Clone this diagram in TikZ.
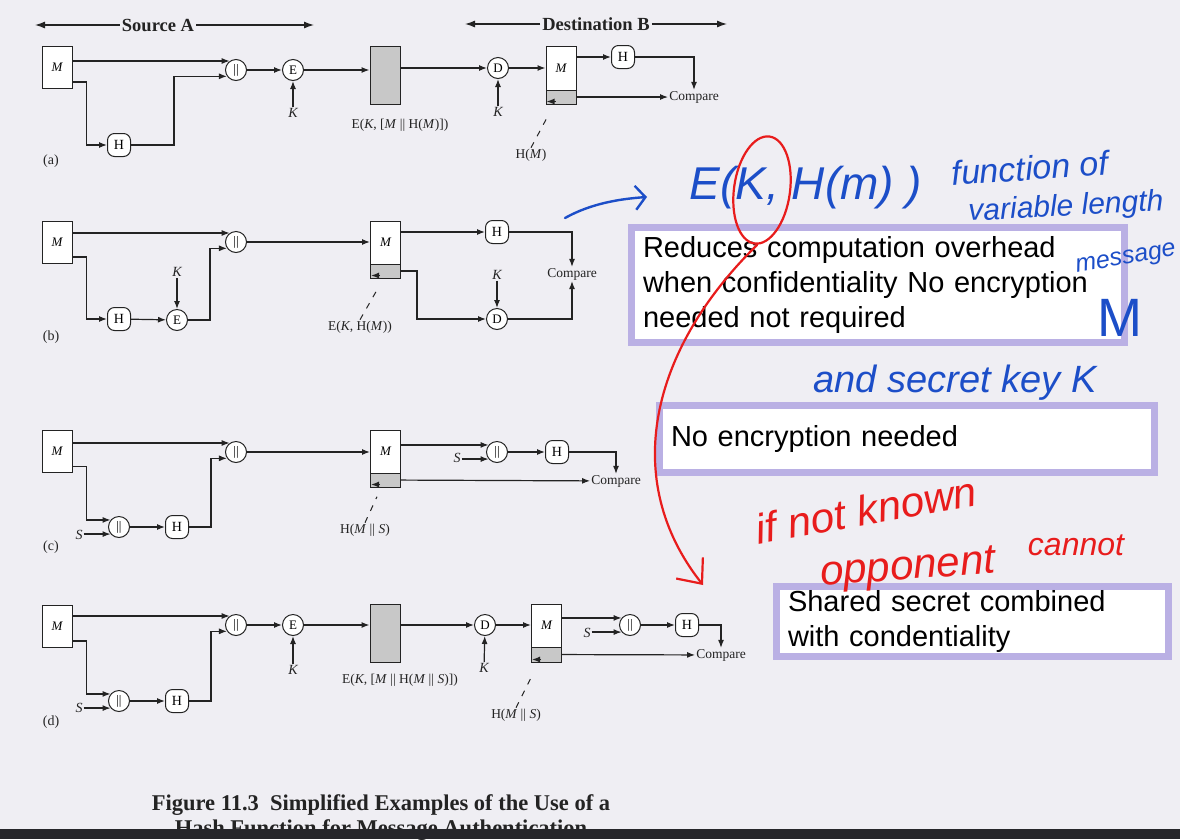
\documentclass[tikz,border=0pt]{standalone}
\usepackage{fontspec}
\setmainfont{Liberation Serif}
\newfontfamily\notefont{Liberation Sans}
\newfontfamily\inkfont{Liberation Sans}
\usetikzlibrary{
  arrows.meta,
  positioning,
  calc
}
\definecolor{papercolor}{RGB}{239,238,243}
\definecolor{linecolor}{RGB}{35,35,35}
\definecolor{hashgray}{RGB}{200,200,200}
\definecolor{notebordercolor}{RGB}{186,176,228}
\definecolor{blueink}{RGB}{28,78,200}
\definecolor{redink}{RGB}{232,28,28}
\definecolor{barcolor}{RGB}{38,38,42}
\tikzset{
figtext/.style={
  font=\fontsize{13.5}{15}\selectfont,
  text=linecolor,
  inner sep=1pt
},
keytext/.style={
  figtext,
  font=\fontsize{14}{15}\selectfont\itshape
},
tagtext/.style={
  figtext,
  font=\fontsize{14}{15}\selectfont
},
headtext/.style={
  font=\bfseries\fontsize{18.5}{20}\selectfont,
  text=linecolor,
  inner sep=2pt
},
captext/.style={
  font=\bfseries\fontsize{22.5}{24}\selectfont,
  text=linecolor
},
msgbox/.style={
  draw=linecolor,
  line width=1pt,
  fill=white,
  minimum width=30pt,
  minimum height=42pt,
  inner sep=0pt,
  font=\fontsize{13}{14}\selectfont\itshape
},
hashfield/.style={
  draw=linecolor,
  line width=1pt,
  fill=hashgray,
  minimum width=30pt,
  minimum height=14pt,
  inner sep=0pt
},
cipherbox/.style={
  draw=linecolor,
  line width=1pt,
  fill=hashgray,
  minimum width=30pt,
  minimum height=58pt
},
opcirc/.style={
  circle,
  draw=linecolor,
  line width=1pt,
  fill=white,
  minimum size=21pt,
  inner sep=0pt,
  font=\fontsize{13}{14}\selectfont
},
hashbox/.style={
  draw=linecolor,
  line width=1pt,
  rounded corners=7pt,
  fill=white,
  minimum width=23pt,
  minimum height=23pt,
  inner sep=0pt,
  font=\fontsize{14}{15}\selectfont
},
arrow/.style={
  -{Latex[length=8pt,width=6pt]},
  line width=1.2pt,
  draw=linecolor
},
sidearrow/.style={
  -{Latex[length=10pt,width=7pt]},
  line width=1.2pt,
  draw=linecolor
},
pointer/.style={
  line width=1pt,
  draw=linecolor,
  dash pattern=on 6pt off 7pt
},
notebox/.style={
  draw=notebordercolor,
  line width=7pt,
  fill=white,
  inner xsep=11.5pt,
  align=left,
  font=\notefont\fontsize{29}{35}\selectfont
},
bluehand/.style={
  text=blueink,
  inner sep=0pt,
  font=\inkfont\itshape\fontsize{34}{34}\selectfont
},
redhand/.style={
  text=redink,
  inner sep=0pt,
  font=\inkfont\itshape\fontsize{42}{42}\selectfont
},
blueline/.style={
  draw=blueink,
  line width=2.4pt,
  line cap=round
},
redline/.style={
  draw=redink,
  line width=2.2pt,
  line cap=round
}
}

\begin{document}
\begin{tikzpicture}[x=1pt,y=-1pt]
\path[use as bounding box, fill=papercolor] (0,0) rectangle (1180,839);

\node[headtext] (srcA) at (158,25) {Source A};
\coordinate (srcL) at (35,25);
\coordinate (srcR) at (314,25);
\draw[sidearrow] (srcA.west) -- (srcL);
\draw[sidearrow] (srcA.east) -- (srcR);
\node[headtext] (dstB) at (596,24) {Destination B};
\coordinate (dstL) at (465,24);
\coordinate (dstR) at (727,24);
\draw[sidearrow] (dstB.west) -- (dstL);
\draw[sidearrow] (dstB.east) -- (dstR);

\node[msgbox] (Ma) at (57,67) {M};
\node[opcirc] (Ca) at (236,70) {||};
\node[hashbox] (Ha) at (119,145) {H};
\node[opcirc] (Ea) at (293,70) {E};
\node[keytext] (Ka) at (293,113) {K};
\node[cipherbox] (Ga) at (385,75) {};
\node[figtext] (GLa) at (400,125) {E(\textit{K}, [\textit{M} || H(\textit{M})])};
\node[opcirc] (Da) at (498,68) {D};
\node[keytext] (Ka2) at (498,112) {K};
\node[msgbox, minimum height=44pt] (Ra) at (561,68) {M};
\node[hashfield] (Ta) at (561,97) {};
\node[hashbox] (HBa) at (623,57) {H};
\node[figtext] (Cmpa) at (694,97) {Compare};
\node[figtext] (HLa) at (531,155) {H(\textit{M})};
\node[tagtext] (tagA) at (51,161) {(a)};
\draw[arrow] (Ma.east |- Ca.125) -- (Ca.125);
\draw[arrow] ([yshift=-15pt]Ma.east) -- ++(14,0) |- (Ha.west);
\draw[arrow] (Ha.east) -- ++(43,0) |- (Ca.215);
\draw[arrow] (Ca) -- (Ea);
\draw[arrow] (Ka) -- (Ea);
\draw[arrow] (Ea) -- (Ga.west |- Ea);
\draw[arrow] (Ga.east |- Da) -- (Da);
\draw[arrow] (Ka2) -- (Da);
\draw[arrow] (Da) -- (Ra.west |- Da);
\draw[arrow] (Ra.east |- HBa) -- (HBa);
\draw[arrow] (HBa) -| (Cmpa.north);
\draw[arrow] (Ta) -- (Cmpa);
\draw[pointer] (HLa.north) -- ++(16,-30);
\draw[arrow] ([xshift=10pt,yshift=3pt]Ta.south west) -- ([xshift=1pt,yshift=3pt]Ta.south west);

\node[msgbox] (Mb) at (57,242) {M};
\node[opcirc] (Cb) at (236,242) {||};
\node[hashbox] (Hb) at (119,319) {H};
\node[opcirc] (Eb) at (177,320) {E};
\node[keytext] (Kb) at (177,272) {K};
\node[msgbox, minimum height=43pt] (Rb) at (385.5,242.5) {M};
\node[hashfield] (Tb) at (385.5,271) {};
\node[figtext] (GLb) at (360,327) {E(\textit{K}, H(\textit{M}))};
\node[hashbox] (HBb) at (497,232) {H};
\node[opcirc] (Db) at (497,319) {D};
\node[keytext] (Kb2) at (497,275) {K};
\node[figtext] (Cmpb) at (572,274) {Compare};
\node[tagtext] (tagB) at (51,337) {(b)};
\draw[arrow] (Mb.east |- Cb.125) -- (Cb.125);
\draw[arrow] ([yshift=-15pt]Mb.east) -- ++(14,0) |- (Hb.west);
\draw[arrow] (Hb) -- (Eb);
\draw[arrow] (Kb) -- (Eb);
\draw[arrow] (Eb.east) -- ++(22,0) |- (Cb.215);
\draw[arrow] (Cb) -- (Rb.west |- Cb);
\draw[arrow] (Rb.east |- HBb) -- (HBb);
\draw[arrow] (HBb) -| (Cmpb.north);
\draw[arrow] (Tb.east) -- ++(16,0) |- (Db.west);
\draw[arrow] (Kb2) -- (Db);
\draw[arrow] (Db) -| (Cmpb.south);
\draw[pointer] (GLb.north) -- ++(16,-28);
\draw[arrow] ([xshift=10pt,yshift=3pt]Tb.south west) -- ([xshift=1pt,yshift=3pt]Tb.south west);

\node[msgbox] (Mc) at (57,451.5) {M};
\node[opcirc] (Cc) at (236,452) {||};
\node[opcirc] (Jc) at (119,527) {||};
\node[keytext] (Sc) at (79,535) {S};
\node[hashbox] (Hc) at (177,527) {H};
\node[msgbox, minimum height=43pt] (Rc) at (385.5,451.5) {M};
\node[hashfield] (Tc) at (385.5,480) {};
\node[figtext] (GLc) at (365,530) {H(\textit{M} || \textit{S})};
\node[opcirc] (Jc2) at (497,452) {||};
\node[keytext] (Sc2) at (457,458) {S};
\node[hashbox] (HBc) at (557,452) {H};
\node[figtext] (Cmpc) at (616,481) {Compare};
\node[tagtext] (tagC) at (51,547) {(c)};
\draw[arrow] (Mc.east |- Cc.125) -- (Cc.125);
\draw[arrow] ([yshift=-15pt]Mc.east) -- ++(14,0) |- (Jc.140);
\draw[arrow] (Sc.east |- Jc.220) -- (Jc.220);
\draw[arrow] (Jc) -- (Hc);
\draw[arrow] (Hc.east) -- ++(22,0) |- (Cc.215);
\draw[arrow] (Cc) -- (Rc.west |- Cc);
\draw[arrow] (Rc.east |- Jc2.140) -- (Jc2.140);
\draw[arrow] (Sc2.east |- Jc2.220) -- (Jc2.220);
\draw[arrow] (Jc2) -- (HBc);
\draw[arrow] (HBc) -| (Cmpc.north);
\draw[arrow] (Tc) -- (Cmpc);
\draw[pointer] (GLc.north) -- ++(12,-26);
\draw[arrow] ([xshift=10pt,yshift=3pt]Tc.south west) -- ([xshift=1pt,yshift=3pt]Tc.south west);

\node[msgbox] (Md) at (57,626) {M};
\node[opcirc] (Cd) at (236,625) {||};
\node[opcirc] (Jd) at (119,701) {||};
\node[keytext] (Sd) at (79,708) {S};
\node[hashbox] (Hd) at (177,701) {H};
\node[opcirc] (Ed) at (293,625) {E};
\node[keytext] (Kd) at (293,670) {K};
\node[cipherbox] (Gd) at (385,633) {};
\node[figtext] (GLd) at (400,680) {E(\textit{K}, [\textit{M} || H(\textit{M} || \textit{S})])};
\node[opcirc] (Dd) at (485,625) {D};
\node[keytext] (Kd2) at (484,668) {K};
\node[msgbox, minimum height=43pt] (Rd) at (546.5,625.5) {M};
\node[hashfield, minimum height=15pt] (Td) at (546.5,654.5) {};
\node[opcirc] (Jd2) at (630,625) {||};
\node[keytext] (Sd2) at (587,633) {S};
\node[hashbox] (HBd) at (687,625) {H};
\node[figtext] (Cmpd) at (721,655) {Compare};
\node[figtext] (GLd2) at (516,715) {H(\textit{M} || \textit{S})};
\node[tagtext] (tagD) at (51,722) {(d)};
\draw[arrow] (Md.east |- Cd.125) -- (Cd.125);
\draw[arrow] ([yshift=-15pt]Md.east) -- ++(14,0) |- (Jd.140);
\draw[arrow] (Sd.east |- Jd.220) -- (Jd.220);
\draw[arrow] (Jd) -- (Hd);
\draw[arrow] (Hd.east) -- ++(22,0) |- (Cd.215);
\draw[arrow] (Cd) -- (Ed);
\draw[arrow] (Kd) -- (Ed);
\draw[arrow] (Ed) -- (Gd.west |- Ed);
\draw[arrow] (Gd.east |- Dd) -- (Dd);
\draw[arrow] (Kd2) -- (Dd);
\draw[arrow] (Dd) -- (Rd.west |- Dd);
\draw[arrow] (Rd.east |- Jd2.140) -- (Jd2.140);
\draw[arrow] (Sd2.east |- Jd2.220) -- (Jd2.220);
\draw[arrow] (Jd2) -- (HBd);
\draw[arrow] (HBd) -| (Cmpd.north);
\draw[arrow] (Td) -- (Cmpd);
\draw[pointer] (GLd2.north) -- ++(16,-32);
\draw[arrow] ([xshift=10pt,yshift=3pt]Td.south west) -- ([xshift=1pt,yshift=3pt]Td.south west);

\node[captext] (capA) at (381,805) {Figure 11.3\ \ Simplified Examples of the Use of a};
\node[captext] (capB) at (381,830) {Hash Function for Message Authentication};
\fill[barcolor] (0,829) rectangle (1180,839);

\node[notebox, minimum width=493pt, minimum height=115pt, text width=470pt] (noteA) at (878,285) {Reduces computation overhead\\when confidentiality No encryption\\needed not required};
\node[notebox, minimum width=495pt, minimum height=67pt, text width=472pt] (noteB) at (907,439) {No encryption needed};
\node[notebox, minimum width=392pt, minimum height=70pt, text width=369pt] (noteC) at (972.5,621.5) {Shared secret combined\\with condentiality};

\node[bluehand, font=\inkfont\itshape\fontsize{46}{46}\selectfont] (encKH) at (806,188) {E(K, H(m) )};
\node[bluehand, rotate=4] (fnOf) at (1030,168) {function of};
\node[bluehand, rotate=3, font=\inkfont\itshape\fontsize{30}{30}\selectfont] (varLen) at (1066,208) {variable length};
\node[bluehand, rotate=10, font=\inkfont\itshape\fontsize{25}{25}\selectfont] (msgTxt) at (1126,260) {message};
\node[bluehand, font=\inkfont\fontsize{54}{54}\selectfont] (msgM) at (1120,318) {M};
\node[bluehand, font=\inkfont\itshape\fontsize{38}{38}\selectfont] (keyTxt) at (955,383) {and secret key K};
\coordinate (inkA) at (565,218);
\coordinate (inkB) at (647,197);
\draw[blueline, -{Straight Barb[length=10pt,width=24pt]}] (inkA) .. controls (590,204) and (618,199) .. (inkB);

\node[redhand, rotate=10] (notKnown) at (866,510) {if not known};
\node[redhand, rotate=4] (oppTxt) at (908,570) {opponent};
\node[redhand, font=\inkfont\itshape\fontsize{32}{32}\selectfont] (cannotTxt) at (1076,545) {cannot};
\draw[redline, rotate around={-8:(762,190)}] (762,190) ellipse [x radius=28pt, y radius=54pt];
\coordinate (inkC) at (757,245);
\coordinate (inkD) at (703,585);
\draw[redline, -{Straight Barb[length=20pt,width=34pt]}] (inkC) .. controls (650,350) and (620,480) .. (inkD);
\end{tikzpicture}
\end{document}
